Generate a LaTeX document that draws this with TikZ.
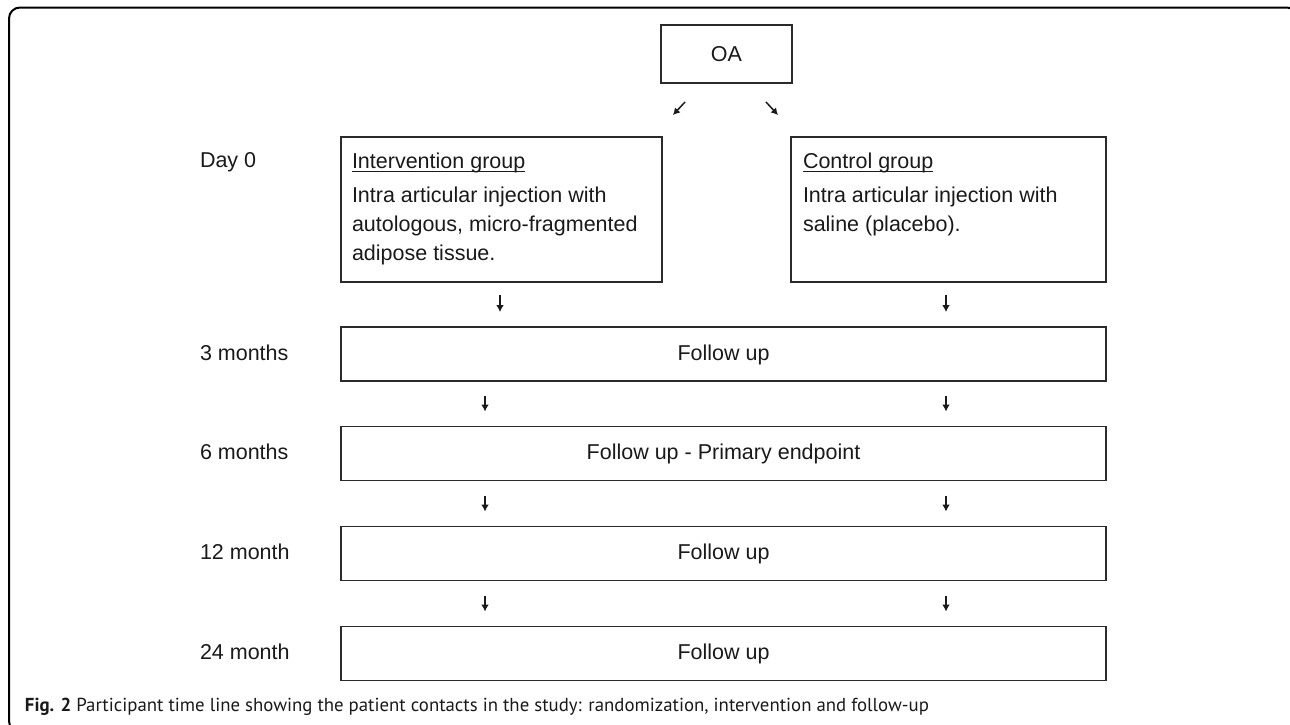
\documentclass[tikz,border=0pt]{standalone}
\usepackage{fontspec}
\setmainfont{Liberation Sans}
\newfontfamily\capfont{PT Sans}
\usetikzlibrary{arrows.meta,calc}
\newcommand\myul[1]{\setbox0\hbox{#1}\rlap{\rule[-1.9pt]{\wd0}{0.55pt}}\box0}
\definecolor{ink}{HTML}{1A1A1A}
\definecolor{edge}{HTML}{2B2B2B}
\begin{document}
\begin{tikzpicture}[x=0.5pt,y=-0.5pt,
  every node/.style={inner sep=0pt,outer sep=0pt,text=ink},
  txt/.style={font=\fontsize{10.75pt}{14.5pt}\selectfont},
  boxnode/.style={draw=edge,line width=0.9pt,fill=none},
  arr/.style={draw=ink,line width=0.75pt,-{Latex[length=3.4pt,width=3.8pt]}},
  vlink/.style={arr,shorten <=7.5pt,shorten >=7.5pt}]
\clip (0,0) rectangle (1290,724);
\fill[white] (0,0) rectangle (1290,724);
\draw[black,line width=1pt,rounded corners=5.5pt] (9,7.5) rectangle (1298,732);

% boxes
\node[boxnode,minimum width=65.5pt,minimum height=29pt] (oa) at (726.5,54) {};
\node[txt] (oat) at (726.5,54) {OA};
\node[boxnode,minimum width=160.5pt,minimum height=72.5pt] (interv) at (501.5,209.5) {};
\node[boxnode,minimum width=157.5pt,minimum height=72.5pt] (control) at (948.5,209.5) {};
\node[boxnode,minimum width=382.5pt,minimum height=27pt] (fu1) at (723.5,354) {};
\node[boxnode,minimum width=382.5pt,minimum height=27pt] (fu2) at (723.5,453.5) {};
\node[boxnode,minimum width=382.5pt,minimum height=27pt] (fu3) at (723.5,553.5) {};
\node[boxnode,minimum width=382.5pt,minimum height=27pt] (fu4) at (723.5,653.5) {};

% box texts
\node[txt,anchor=base west] (it) at (352,168) {\myul{Intervention group}};
\node[txt,anchor=north west,align=left] (ib) at (352,186.5) {Intra articular injection with\\autologous, micro-fragmented\\adipose tissue.};
\node[txt,anchor=base west] (ct) at (803,168) {\myul{Control group}};
\node[txt,anchor=north west,align=left] (cb) at (803,186.5) {Intra articular injection with\\saline (placebo).};
\node[txt,anchor=base] (f1) at (723.5,360) {Follow up};
\node[txt,anchor=base] (f2) at (723.5,459.5) {Follow up - Primary endpoint};
\node[txt,anchor=base] (f3) at (723.5,559.5) {Follow up};
\node[txt,anchor=base] (f4) at (723.5,659.5) {Follow up};

% time labels
\node[txt,anchor=base west] (l0) at (200,167) {Day 0};
\node[txt,anchor=base west] (l1) at (200,360) {3 months};
\node[txt,anchor=base west] (l2) at (200,459.5) {6 months};
\node[txt,anchor=base west] (l3) at (200,559.5) {12 month};
\node[txt,anchor=base west] (l4) at (200,659.5) {24 month};

% arrows
\draw[arr] ([xshift=-20.75pt,yshift=-9.5pt]oa.south) -- ([xshift=-26.75pt,yshift=-16pt]oa.south);
\draw[arr] ([xshift=19.75pt,yshift=-9.5pt]oa.south) -- ([xshift=25.75pt,yshift=-16pt]oa.south);
\draw[arr,shorten <=6.5pt,shorten >=7.5pt] ([xshift=-0.75pt]interv.south) -- ([xshift=-0.75pt]interv.south |- fu1.north);
\draw[arr,shorten <=6.5pt,shorten >=7.5pt] ([xshift=-1.25pt]control.south) -- ([xshift=-1.25pt]control.south |- fu1.north);
\draw[vlink] ([xshift=72pt]fu1.south west) -- ([xshift=72pt]fu2.north west);
\draw[vlink] ([xshift=-80pt]fu1.south east) -- ([xshift=-80pt]fu2.north east);
\draw[vlink] ([xshift=72pt]fu2.south west) -- ([xshift=72pt]fu3.north west);
\draw[vlink] ([xshift=-80pt]fu2.south east) -- ([xshift=-80pt]fu3.north east);
\draw[vlink] ([xshift=72pt]fu3.south west) -- ([xshift=72pt]fu4.north west);
\draw[vlink] ([xshift=-80pt]fu3.south east) -- ([xshift=-80pt]fu4.north east);

% caption
\node[anchor=base west,font=\capfont\fontsize{9.4pt}{12pt}\selectfont] (cap) at (25,711.5) {\textbf{Fig. 2} Participant time line showing the patient contacts in the study: randomization, intervention and follow-up};
\end{tikzpicture}
\end{document}
